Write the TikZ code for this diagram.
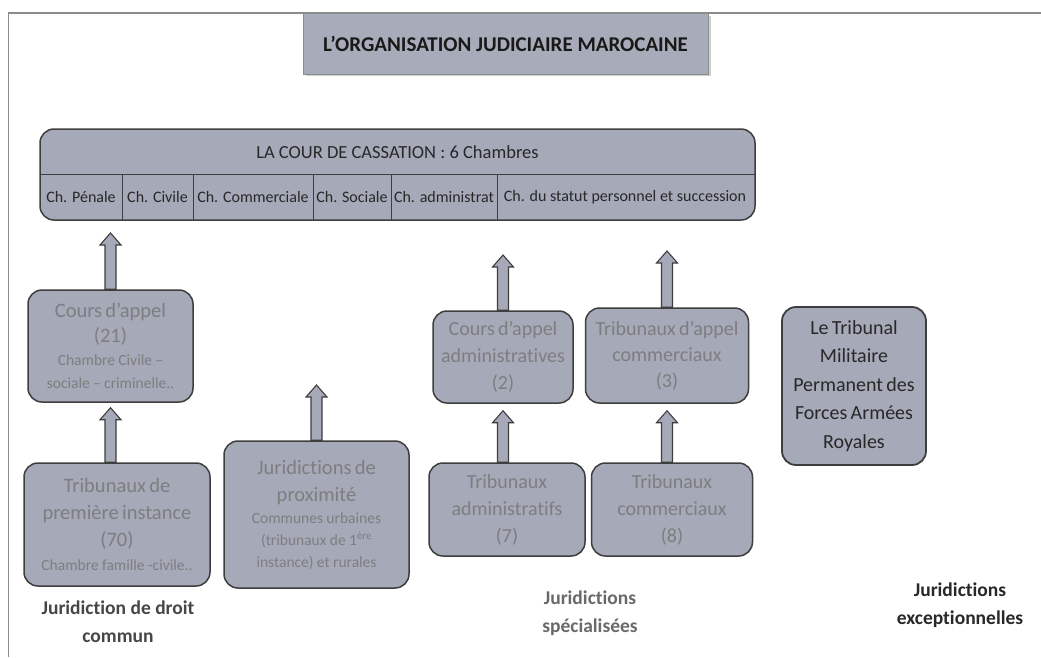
\documentclass[tikz,border=0pt]{standalone}
\usepackage{fontspec}
\setmainfont[Ligatures=NoCommon]{Carlito}
\usetikzlibrary{calc}
\definecolor{boxfill}{RGB}{165,169,184}
\definecolor{boxline}{RGB}{62,62,62}
\definecolor{softtext}{RGB}{126,126,128}
\definecolor{darktext}{RGB}{40,40,40}
\definecolor{framegrey}{RGB}{140,140,140}
\definecolor{titlefill}{RGB}{168,172,186}
\definecolor{labdark}{RGB}{70,70,70}
\definecolor{labsoft}{RGB}{105,105,105}
\newcommand\fs[2]{\fontsize{#1}{#2}\selectfont}
% block arrow from the top of a box (#1) up to a tip (#2)
\newcommand\uparr[2]{%
  \draw[blockarrow] let \p1=(#1), \p2=(#2) in
    (\x2-5.5pt,\y1) -- (\x2-5.5pt,\y2-12pt) -- (\x2-10.5pt,\y2-12pt) -- (\x2,\y2)
    -- (\x2+10.5pt,\y2-12pt) -- (\x2+5.5pt,\y2-12pt) -- (\x2+5.5pt,\y1) -- cycle;}
\begin{document}
\begin{tikzpicture}[x=1pt,y=-1pt,
  court/.style={draw=boxline, line width=1.5pt, fill=boxfill, rounded corners=14pt,
    align=center, inner sep=0pt, text=softtext},
  blockarrow/.style={draw=boxline, line width=1.1pt, fill=boxfill},
  group/.style={font=\fs{19.5}{28}\bfseries, align=center, inner sep=0pt},
  chamber/.style={font=\fs{16}{18}, text=darktext, inner sep=0pt}]

\useasboundingbox (0,0) rectangle (1041,657);
\fill[white] (0,0) rectangle (1041,657);

% frame
\draw[framegrey, line width=1.5pt] (1041,13) -- (8.5,13) -- (8.5,657);

% title
\fill[black!18] (305.5,15.5) rectangle (710.5,75.5);
\node[draw=framegrey, line width=0.8pt, fill=titlefill, minimum width=405pt, minimum height=61pt,
  inner sep=0pt, font=\fs{21}{24}\bfseries, text=black!90] (title) at (505.5,43.5)
  {L’ORGANISATION JUDICIAIRE MAROCAINE};

% cour de cassation
\node[court, minimum width=715pt, minimum height=91pt] (cass) at (397.5,174.5) {};
\node[font=\fs{18.5}{22}, text=darktext, inner sep=0pt] (casstitle) at (397.5,152) {LA COUR DE CASSATION : 6 Chambres};
\draw[boxline, line width=1pt] (40,174) -- (755,174);
\foreach \xx in {122,193,313,391,497} \draw[boxline, line width=1pt] (\xx,174) -- (\xx,220);
\node[chamber] (c1) at (81,197.5) {Ch. Pénale};
\node[chamber] (c2) at (157.5,197.5) {Ch. Civile};
\node[chamber] (c3) at (253,197.5) {Ch. Commerciale};
\node[chamber] (c4) at (352,197.5) {Ch. Sociale};
\node[chamber] (c5) at (444,197.5) {Ch. administrat};
\node[chamber] (c6) at (625,197.5) {Ch. du statut personnel et succession};

% droit commun
\node[court, minimum width=165pt, minimum height=112pt, text width=160pt] (cour) at (110.5,346)
  {\fs{20.5}{25}Cours d’appel\\(21)\par\fs{15.5}{23}Chambre Civile –\\sociale – criminelle..\par};
\node[court, minimum width=186pt, minimum height=123pt, text width=180pt] (tpi) at (117,524.5)
  {\fs{20.5}{27}Tribunaux de\\première instance\\(70)\par\fs{15.5}{24}Chambre famille -civile..\par};
\node[court, minimum width=185pt, minimum height=147pt, text width=180pt] (prox) at (316.5,514.5)
  {\fs{20.5}{27}Juridictions de\\proximité\par\fs{15.5}{22}Communes urbaines\\(tribunaux de 1\textsuperscript{ère}\\instance) et rurales\par};

% specialisees
\node[court, minimum width=140pt, minimum height=92pt, text width=138pt] (caa) at (503,357)
  {\fs{20}{27}Cours d’appel\\administratives\\(2)\par};
\node[court, minimum width=156pt, minimum height=93pt, text width=150pt] (ta) at (507,509.5)
  {\fs{20}{27}Tribunaux\\administratifs\\(7)\par};
\node[court, minimum width=163pt, minimum height=95pt, text width=160pt] (tac) at (667,355.5)
  {\fs{20}{26}Tribunaux d’appel\\commerciaux\\(3)\par};
\node[court, minimum width=161pt, minimum height=93pt, text width=155pt] (tc) at (672,509.5)
  {\fs{20}{27}Tribunaux\\commerciaux\\(8)\par};

% exceptionnelles
\node[court, line width=1.8pt, text=darktext, minimum width=144pt, minimum height=158pt, text width=140pt] (mil) at (854,386)
  {\fs{20}{28.5}Le Tribunal\\Militaire\\Permanent des\\Forces Armées\\Royales\par};

% arrows
\coordinate (t1) at (110.5,233);
\coordinate (t3) at (316.5,385);
\coordinate (t4) at (503,255);
\coordinate (t5) at (667,251);
\uparr{cour.north}{t1}
\uparr{tpi.north}{[yshift=-5pt]cour.south}
\uparr{prox.north}{t3}
\uparr{caa.north}{t4}
\uparr{ta.north}{[yshift=-7pt]caa.south}
\uparr{tac.north}{t5}
\uparr{tc.north}{[yshift=-7pt]tac.south}

% group labels
\node[group, text=labdark] (lab1) at (118,622) {Juridiction de droit\\commun};
\node[group, text=labsoft] (lab2) at (590,613.5) {Juridictions\\spécialisées};
\node[group, text=darktext] (lab3) at (960,605) {Juridictions\\exceptionnelles};
\end{tikzpicture}
\end{document}
